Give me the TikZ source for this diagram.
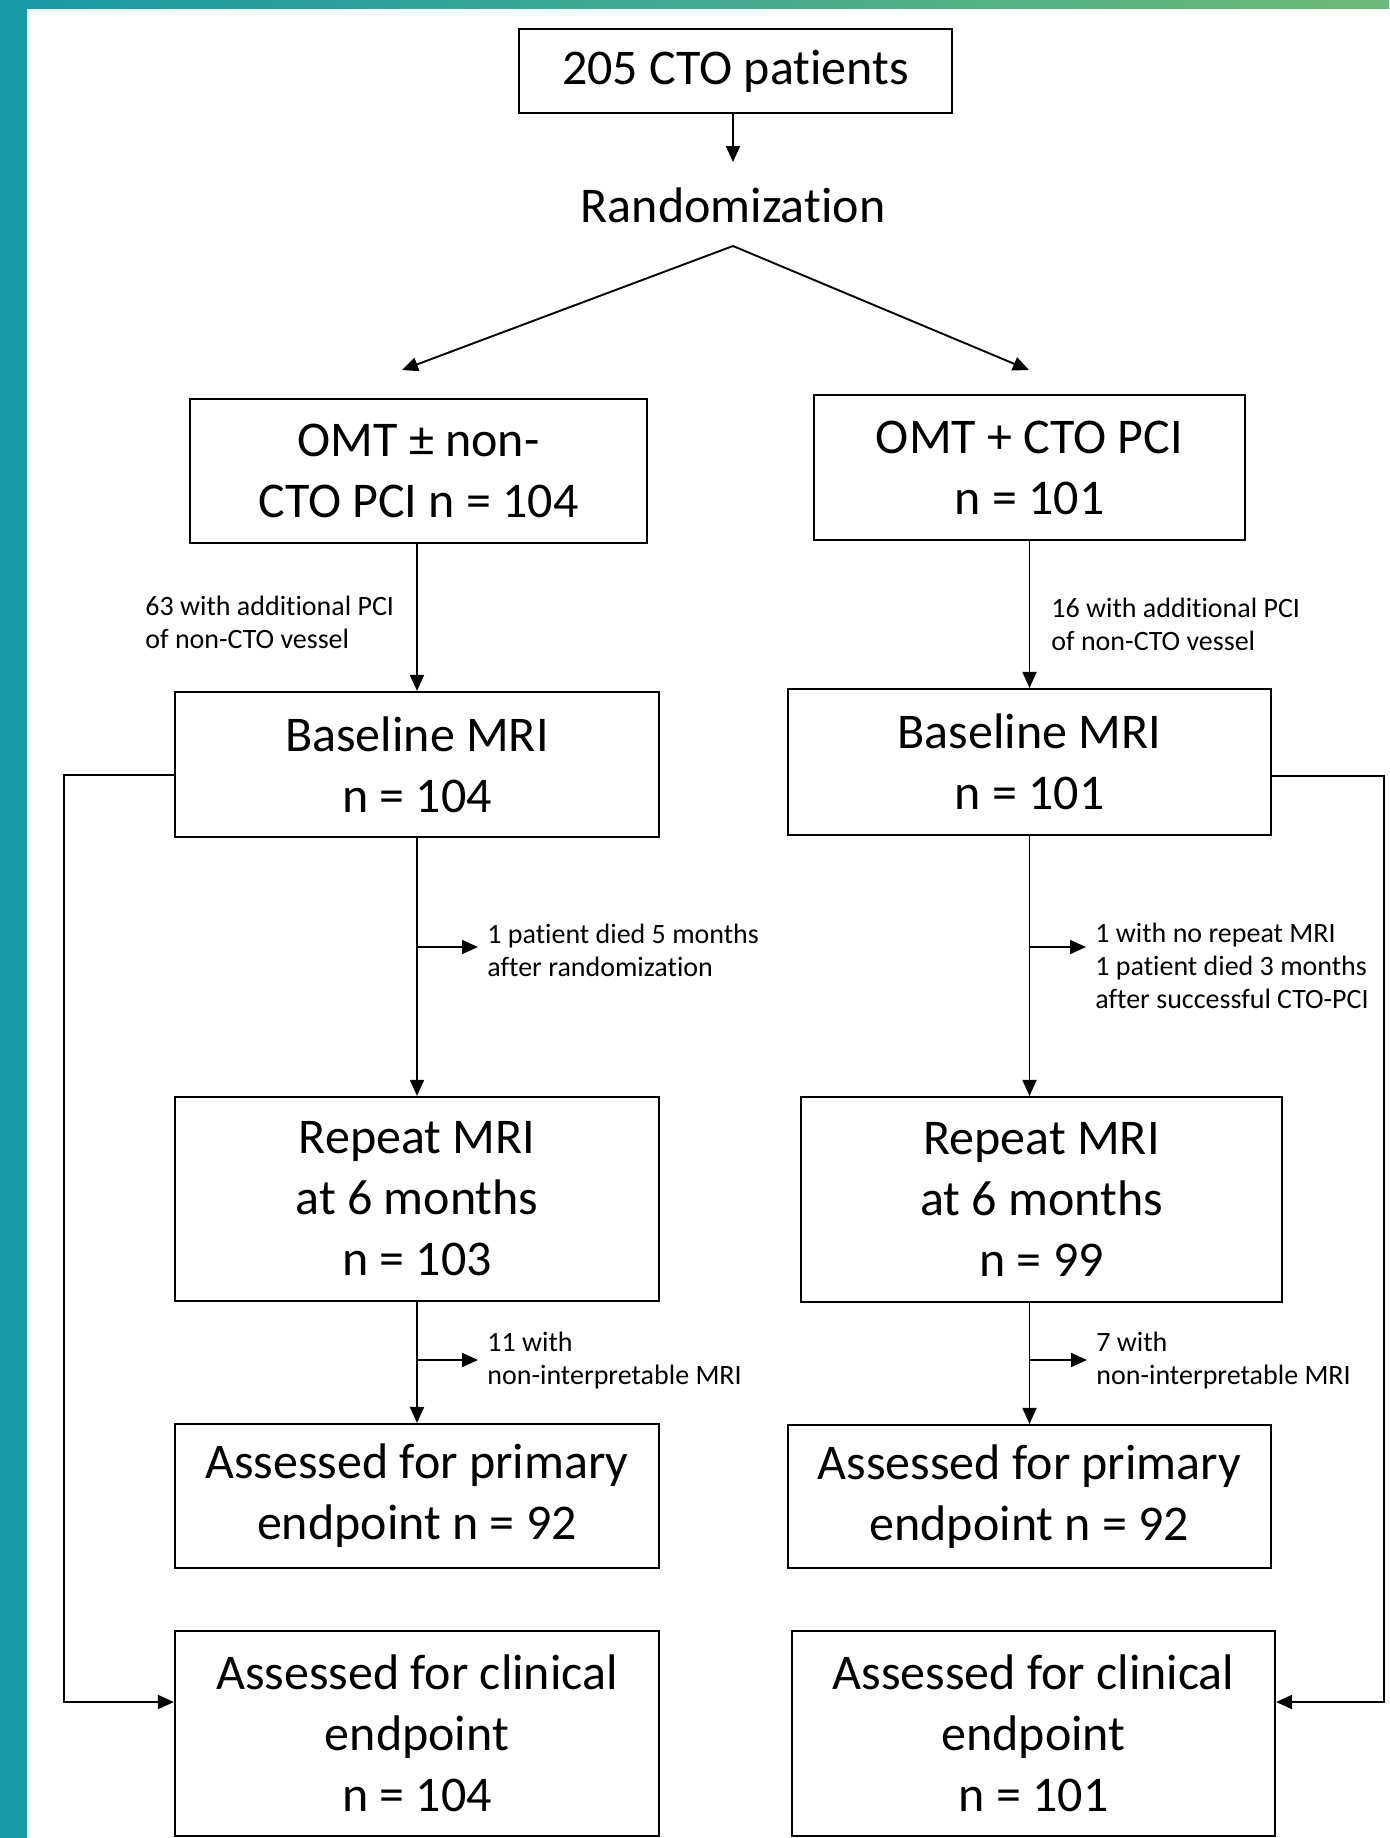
\documentclass[tikz,border=0pt]{standalone}
\usepackage{fontspec}
\setmainfont{Carlito}[RawFeature={-liga;-clig;-calt;-dlig}]
\usetikzlibrary{arrows.meta}
\definecolor{bandteal}{HTML}{1899A6}
\definecolor{bandgreen}{HTML}{6DBA78}
\tikzset{
  box/.style={draw,line width=1.1pt,align=center,inner sep=0pt,font=\fontsize{25}{30.5}\selectfont},
  arr/.style={line width=0.95pt,-{Triangle[length=8pt,width=7pt]}},
  note/.style={anchor=west,align=left,inner sep=4.5pt,font=\fontsize{14}{16.5}\selectfont}
}
\begin{document}
\begin{tikzpicture}[x=0.5pt,y=-0.5pt]
   \useasboundingbox (0,0) rectangle (1389,1838);
   \fill[white] (0,0) rectangle (1389,1838);
   \shade[left color=bandteal,right color=bandgreen] (0,0) rectangle (1389,8);
   \fill[bandteal] (0,0) rectangle (27,1838);

   % boxes
   \node[box,minimum width=216.5pt,minimum height=42pt] (cto) at (735.5,71) {205 CTO patients};
   \node[font=\fontsize{25}{30.5}\selectfont] (rand) at (733,205) {Randomization};
   \node[box,minimum width=228.5pt,minimum height=72pt] (omtL) at (418.5,471) {OMT ± non-\\CTO PCI n = 104};
   \node[box,minimum width=215.5pt,minimum height=72.5pt] (omtR) at (1029.5,467.5) {OMT + CTO PCI\\n = 101};
   \node[box,minimum width=242pt,minimum height=72.5pt] (baseL) at (417,764.5) {Baseline MRI\\n = 104};
   \node[box,minimum width=241.5pt,minimum height=73pt] (baseR) at (1029.5,762) {Baseline MRI\\n = 101};
   \node[box,minimum width=242pt,minimum height=102pt] (repL) at (417,1199) {Repeat MRI\\at 6 months\\n = 103};
   \node[box,minimum width=240.5pt,minimum height=102.5pt] (repR) at (1041.5,1199.5) {Repeat MRI\\at 6 months\\n = 99};
   \node[box,minimum width=242pt,minimum height=72pt] (primL) at (417,1496) {Assessed for primary\\endpoint n = 92};
   \node[box,minimum width=241.5pt,minimum height=71.5pt] (primR) at (1029.5,1496.5) {Assessed for primary\\endpoint n = 92};
   \node[box,minimum width=242pt,minimum height=102.5pt] (clinL) at (417,1733.5) {Assessed for clinical\\endpoint\\n = 104};
   \node[box,minimum width=241.5pt,minimum height=102.5pt] (clinR) at (1033.5,1733.5) {Assessed for clinical\\endpoint\\n = 101};

   % side notes
   \node[note] (addL) at (136,622) {63 with additional PCI\\of non-CTO vessel};
   \node[note] (addR) at (1042,624) {16 with additional PCI\\of non-CTO vessel};
   \node[note] (lossL1) at (478,950) {1 patient died 5 months\\after randomization};
   \node[note] (lossR1) at (1086,966) {1 with no repeat MRI\\1 patient died 3 months\\after successful CTO-PCI};
   \node[note] (lossL2) at (478,1361) {11 with\\non-interpretable MRI};
   \node[note] (lossR2) at (1087,1361) {7 with\\non-interpretable MRI};

   % top part
   \coordinate (randtop) at (733,162);
   \coordinate (split) at (733,246);
   \coordinate (tipL) at (402,370);
   \coordinate (tipR) at (1029,370);
   \draw[arr] (randtop |- cto.south) -- (randtop);
   \draw[arr] (split) -- (tipL);
   \draw[arr] (split) -- (tipR);

   % main columns
   \draw[arr] (baseL.north |- omtL.south) -- (baseL.north);
   \draw[arr] (omtR.south) -- (baseR.north);
   \draw[arr] (baseL.south) -- (baseL.south |- repL.north);
   \draw[arr] (baseR.south) -- (baseR.south |- repR.north);
   \draw[arr] (repL.south) -- (primL.north);
   \draw[arr] (primR.north |- repR.south) -- (primR.north);

   % drop-outs
   \coordinate (brL1) at (417,947);
   \coordinate (brR1) at (1029.5,947);
   \coordinate (brL2) at (417,1360);
   \coordinate (brR2) at (1029.5,1360);
   \draw[arr] (brL1) -- (brL1 -| lossL1.west);
   \draw[arr] (brR1) -- (brR1 -| lossR1.west);
   \draw[arr] (brL2) -- (brL2 -| lossL2.west);
   \draw[arr] (brR2) -- (brR2 -| lossR2.west);

   % clinical endpoint loops
   \coordinate (loopL1) at (64,775);
   \coordinate (loopL2) at (64,1702);
   \coordinate (loopR1) at (1384,776);
   \coordinate (loopR2) at (1384,1702);
   \draw[arr] (baseL.west |- loopL1) -- (loopL1) -- (loopL2) -- (clinL.west |- loopL2);
   \draw[arr] (baseR.east |- loopR1) -- (loopR1) -- (loopR2) -- (clinR.east |- loopR2);
\end{tikzpicture}
\end{document}
